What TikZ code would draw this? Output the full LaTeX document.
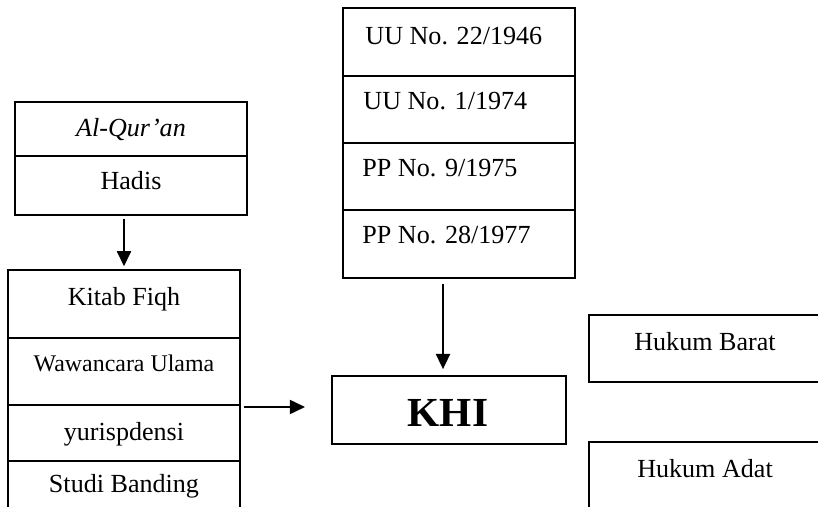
\documentclass[tikz,border=0pt]{standalone}
\usepackage{fontspec}
\setmainfont{Liberation Serif}
\usepackage{tikz}
\usetikzlibrary{arrows.meta}

\begin{document}
\begin{tikzpicture}[x=0.46pt, y=-0.46pt,
	kotak/.style 2 args={draw, line width=0.6pt, inner sep=0pt, minimum width=#1*0.46pt, minimum height=#2*0.46pt},
	teks/.style={anchor=base, inner sep=0pt, font=\fontsize{12pt}{14pt}\selectfont},
	panah/.style={-{Triangle[length=7pt, width=6.5pt]}, line width=0.85pt}]
	\useasboundingbox (0,0) rectangle (818,507);
	\clip (0,0) rectangle (818,507);
	
	% Sumber pokok
	\node[kotak={232}{54}] (quran) at (131,129) {};
	\node[kotak={232}{59}] (hadis) at (131,185.5) {};
	\node[teks] (quran-t) at (131,137) {\textit{Al-Qur'an}};
	\node[teks] (hadis-t) at (131,190) {Hadis};
	
	% Bahan kiri
	\node[kotak={232}{68}] (kitab) at (124,304) {};
	\node[kotak={232}{67}] (ulama) at (124,371.5) {};
	\node[kotak={232}{56}] (yuris) at (124,433) {};
	\node[kotak={232}{69}] (studi) at (124,495.5) {};
	\node[teks] (kitab-t) at (124,306) {Kitab Fiqh};
	\node[teks, font=\fontsize{11pt}{13pt}\selectfont] (ulama-t) at (124,372) {Wawancara Ulama};
	\node[teks] (yuris-t) at (124,440) {yurispdensi};
	\node[teks] (studi-t) at (124,492) {Studi Banding};
	
	% Peraturan
	\node[kotak={232}{68}] (uu22) at (459,42) {};
	\node[kotak={232}{67}] (uu1) at (459,109.5) {};
	\node[kotak={232}{67}] (pp9) at (459,176.5) {};
	\node[kotak={232}{68}] (pp28) at (459,244) {};
	\node[teks, anchor=base west] (uu22-t) at (365,45) {UU No. 22/1946};
	\node[teks, anchor=base west] (uu1-t) at (363,110) {UU No. 1/1974};
	\node[teks, anchor=base west] (pp9-t) at (362,177) {PP No. 9/1975};
	\node[teks, anchor=base west] (pp28-t) at (362,244) {PP No. 28/1977};
	
	% KHI
	\node[kotak={234}{68}, line width=0.8pt] (khi) at (449,410) {};
	\node[teks, font=\fontsize{19pt}{22pt}\selectfont\bfseries] (khi-t) at (448,426) {KHI};
	
	% Hukum lain
	\node[kotak={241}{67}] (barat) at (709.5,348.5) {};
	\node[kotak={241}{68}] (adat) at (709.5,476) {};
	\node[teks] (barat-t) at (705,351) {Hukum Barat};
	\node[teks] (adat-t) at (705,477) {Hukum Adat};
	
	% Panah
	\coordinate (ujung) at (305,407);
	\draw[panah] ([yshift=-3*0.46pt]kitab.north |- hadis.south) -- ([yshift=1.4pt]kitab.north);
	\draw[panah] ([xshift=3*0.46pt]yuris.east |- ujung) -- (ujung);
	\draw[panah] ([shift={(-6,5)}]pp28.south -| khi.north) -- ([shift={(-6,-6)}]khi.north);
\end{tikzpicture}
\end{document}
